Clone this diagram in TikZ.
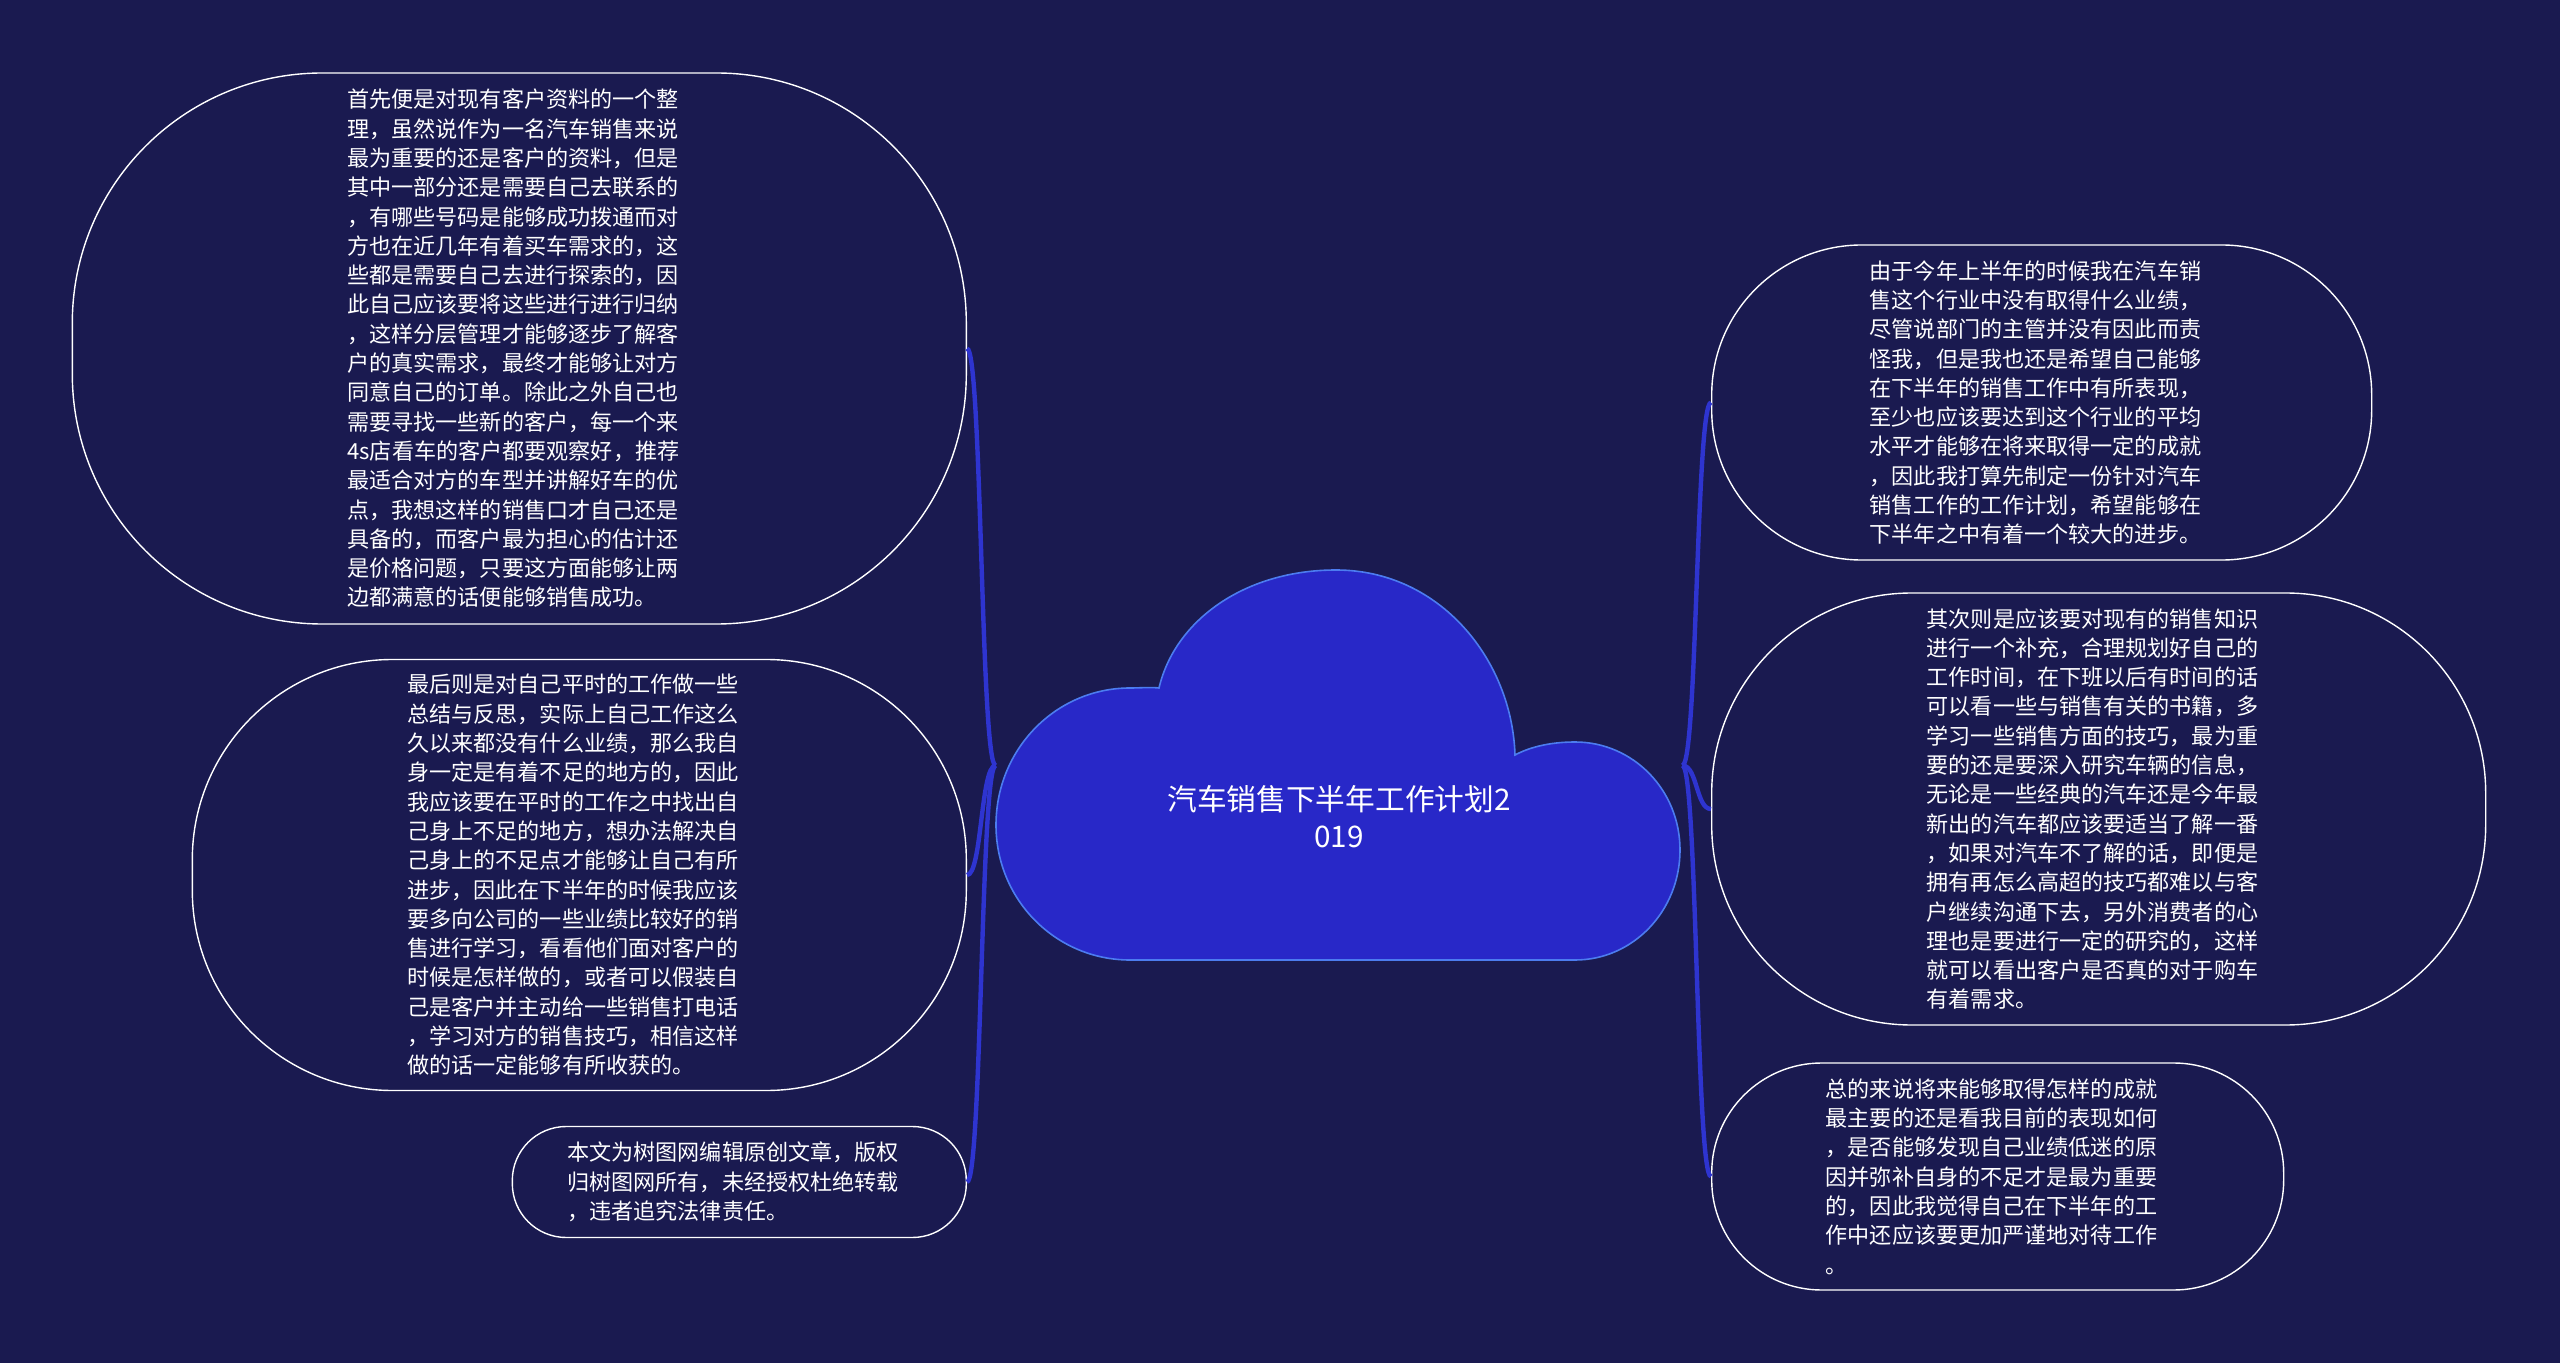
\documentclass[tikz,border=0pt]{standalone}
\usepackage{fontspec}
\newfontfamily\cjk{Noto Sans CJK SC}
\usepackage{tikz}
\usetikzlibrary{positioning,calc}
\definecolor{bgnavy}{RGB}{26,26,80}
\definecolor{cloudfill}{RGB}{40,40,200}
\definecolor{cloudedge}{RGB}{76,124,240}
\definecolor{linkblue}{RGB}{46,52,208}
\tikzset{
  leaf/.style={draw=white, fill=bgnavy, line width=0.7pt, text=white, align=left,
               text width=172pt, inner sep=0pt, font=\cjk\fontsize{11.05}{14.65}\selectfont},
  leftleaf/.style={leaf, anchor=east},
  rightleaf/.style={leaf, anchor=west},
  hub/.style={minimum width=343pt, minimum height=194.5pt, inner sep=0pt},
  hubtitle/.style={text=white, align=center, font=\cjk\fontsize{14.85}{18.75}\selectfont},
  cloudbody/.style={fill=cloudfill, draw=cloudedge, line width=0.8pt},
  link/.style={line width=2.2pt, linkblue}
}

\begin{document}
\begin{tikzpicture}[x=0.5pt, y=-0.5pt]
\useasboundingbox (0,0) rectangle (2560,1363);
\fill[bgnavy] (0,0) rectangle (2560,1363);

% centre: cloud
\path[cloudbody] (1130,960) -- (1575,960)
  .. controls (1633,960) and (1680,911) .. (1680,850)
  .. controls (1680,790) and (1633,742) .. (1575,742)
  .. controls (1548,742) and (1528,748) .. (1515,755)
  .. controls (1512,660) and (1440,570) .. (1336,570)
  .. controls (1245,570) and (1175,620) .. (1159,688)
  .. controls (1150,687) and (1140,688) .. (1130,688)
  .. controls (1056,688) and (996,749) .. (996,825)
  .. controls (996,900) and (1056,960) .. (1130,960) -- cycle;
\node[hub] (root) at (1339,765.5) {};
\node[hubtitle] (title) at ($(root.center)+(0,51)$) {汽车销售下半年工作计划2\\019};

% left branches
\node[leftleaf, minimum width=447pt, minimum height=275.5pt, rounded corners=125pt] (L1) at (967,348.5) {%
首先便是对现有客户资料的一个整\\
理，虽然说作为一名汽车销售来说\\
最为重要的还是客户的资料，但是\\
其中一部分还是需要自己去联系的\\
，有哪些号码是能够成功拨通而对\\
方也在近几年有着买车需求的，这\\
些都是需要自己去进行探索的，因\\
此自己应该要将这些进行进行归纳\\
，这样分层管理才能够逐步了解客\\
户的真实需求，最终才能够让对方\\
同意自己的订单。除此之外自己也\\
需要寻找一些新的客户，每一个来\\
4s店看车的客户都要观察好，推荐\\
最适合对方的车型并讲解好车的优\\
点，我想这样的销售口才自己还是\\
具备的，而客户最为担心的估计还\\
是价格问题，只要这方面能够让两\\
边都满意的话便能够销售成功。};
\node[leftleaf, minimum width=387pt, minimum height=215.5pt, rounded corners=100pt] (L2) at (967,875) {%
最后则是对自己平时的工作做一些\\
总结与反思，实际上自己工作这么\\
久以来都没有什么业绩，那么我自\\
身一定是有着不足的地方的，因此\\
我应该要在平时的工作之中找出自\\
己身上不足的地方，想办法解决自\\
己身上的不足点才能够让自己有所\\
进步，因此在下半年的时候我应该\\
要多向公司的一些业绩比较好的销\\
售进行学习，看看他们面对客户的\\
时候是怎样做的，或者可以假装自\\
己是客户并主动给一些销售打电话\\
，学习对方的销售技巧，相信这样\\
做的话一定能够有所收获的。};
\node[leftleaf, minimum width=227pt, minimum height=55.5pt, rounded corners=27pt] (L3) at (967,1182) {%
本文为树图网编辑原创文章，版权\\
归树图网所有，未经授权杜绝转载\\
，违者追究法律责任。};

% right branches
\node[rightleaf, minimum width=330pt, minimum height=157.5pt, rounded corners=75pt] (R1) at (1711,402.5) {%
由于今年上半年的时候我在汽车销\\
售这个行业中没有取得什么业绩，\\
尽管说部门的主管并没有因此而责\\
怪我，但是我也还是希望自己能够\\
在下半年的销售工作中有所表现，\\
至少也应该要达到这个行业的平均\\
水平才能够在将来取得一定的成就\\
，因此我打算先制定一份针对汽车\\
销售工作的工作计划，希望能够在\\
下半年之中有着一个较大的进步。};
\node[rightleaf, minimum width=387pt, minimum height=216pt, rounded corners=100pt] (R2) at (1711,809) {%
其次则是应该要对现有的销售知识\\
进行一个补充，合理规划好自己的\\
工作时间，在下班以后有时间的话\\
可以看一些与销售有关的书籍，多\\
学习一些销售方面的技巧，最为重\\
要的还是要深入研究车辆的信息，\\
无论是一些经典的汽车还是今年最\\
新出的汽车都应该要适当了解一番\\
，如果对汽车不了解的话，即便是\\
拥有再怎么高超的技巧都难以与客\\
户继续沟通下去，另外消费者的心\\
理也是要进行一定的研究的，这样\\
就可以看出客户是否真的对于购车\\
有着需求。};
\node[rightleaf, minimum width=286pt, minimum height=113.5pt, rounded corners=55pt] (R3) at (1711,1176.5) {%
总的来说将来能够取得怎样的成就\\
最主要的还是看我目前的表现如何\\
，是否能够发现自己业绩低迷的原\\
因并弥补自身的不足才是最为重要\\
的，因此我觉得自己在下半年的工\\
作中还应该要更加严谨地对待工作\\
。};

% connectors
\draw[link] (root.west) .. controls +(-15,0) and +(15,0) .. (L1.east);
\draw[link] (root.west) .. controls +(-15,0) and +(15,0) .. (L2.east);
\draw[link] (root.west) .. controls +(-15,0) and +(15,0) .. (L3.east);
\draw[link] (root.east) .. controls +(15,0) and +(-15,0) .. (R1.west);
\draw[link] (root.east) .. controls +(15,0) and +(-15,0) .. (R2.west);
\draw[link] (root.east) .. controls +(15,0) and +(-15,0) .. (R3.west);
\end{tikzpicture}
\end{document}
